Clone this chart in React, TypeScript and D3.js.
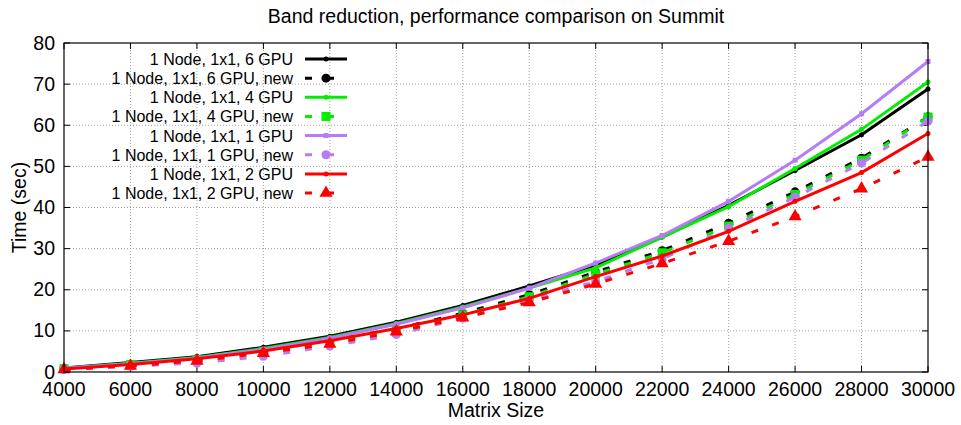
import React from 'react';
import * as d3 from 'd3';

const W = 961;
const H = 425;
const M = { left: 64, right: 33, top: 43, bottom: 53 };

const sizes = [4000, 6000, 8000, 10000, 12000, 14000, 16000, 18000, 20000, 22000, 24000, 26000, 28000, 30000];
const xTicks = [4000, 6000, 8000, 10000, 12000, 14000, 16000, 18000, 20000, 22000, 24000, 26000, 28000, 30000];
const yTicks = [0, 10, 20, 30, 40, 50, 60, 70, 80];

const gpu6 = [1.0, 2.3, 3.7, 6.0, 8.7, 12.1, 16.2, 20.9, 26.0, 32.8, 40.5, 49.0, 57.7, 68.8];
const gpu6New = [0.9, 1.9, 3.2, 5.2, 7.6, 10.5, 14.3, 18.8, 24.3, 29.5, 36.2, 43.8, 52.0, 62.0];
const gpu4 = [0.9, 2.1, 3.5, 5.7, 8.4, 11.8, 15.8, 20.4, 25.3, 32.8, 40.2, 49.5, 59.0, 70.5];
const gpu4New = [0.8, 1.8, 3.0, 5.0, 7.3, 10.1, 13.9, 18.3, 23.8, 29.0, 35.5, 43.2, 51.5, 62.0];
const gpu1 = [0.9, 2.0, 3.4, 5.5, 8.2, 11.6, 15.6, 20.4, 26.5, 33.2, 41.5, 51.5, 62.8, 75.5];
const gpu1New = [0.6, 1.4, 2.2, 3.8, 6.3, 9.1, 13.1, 17.5, 22.0, 27.5, 35.0, 42.5, 50.8, 61.0];
const gpu2 = [0.7, 1.8, 3.2, 5.1, 7.6, 10.6, 13.9, 17.9, 23.2, 28.2, 34.2, 41.5, 48.5, 58.0];
const gpu2New = [0.6, 1.5, 2.7, 4.6, 6.8, 9.8, 13.2, 16.9, 21.4, 26.4, 31.8, 37.8, 44.6, 52.3];

type Marker = 'dot' | 'circle' | 'square' | 'triangle' | 'smallsquare';

const series: { name: string; values: number[]; color: string; dashed: boolean; marker: Marker }[] = [
  { name: '1 Node, 1x1, 6 GPU', values: gpu6, color: '#000000', dashed: false, marker: 'dot' },
  { name: '1 Node, 1x1, 6 GPU, new', values: gpu6New, color: '#000000', dashed: true, marker: 'circle' },
  { name: '1 Node, 1x1, 4 GPU', values: gpu4, color: '#00ee00', dashed: false, marker: 'dot' },
  { name: '1 Node, 1x1, 4 GPU, new', values: gpu4New, color: '#00ee00', dashed: true, marker: 'square' },
  { name: '1 Node, 1x1, 1 GPU', values: gpu1, color: '#b57cf5', dashed: false, marker: 'smallsquare' },
  { name: '1 Node, 1x1, 1 GPU, new', values: gpu1New, color: '#b57cf5', dashed: true, marker: 'circle' },
  { name: '1 Node, 1x1, 2 GPU', values: gpu2, color: '#ff0000', dashed: false, marker: 'dot' },
  { name: '1 Node, 1x1, 2 GPU, new', values: gpu2New, color: '#ff0000', dashed: true, marker: 'triangle' },
];

const font = '"Liberation Sans", Arial, sans-serif';

function MarkerShape({ type, x, y, color }: { type: Marker; x: number; y: number; color: string }) {
  if (type === 'dot') return <circle cx={x} cy={y} r={2.5} fill={color} />;
  if (type === 'smallsquare') return <rect x={x - 2.5} y={y - 2.5} width={5} height={5} fill={color} />;
  if (type === 'circle') return <circle cx={x} cy={y} r={4.5} fill={color} />;
  if (type === 'square') return <rect x={x - 4.5} y={y - 4.5} width={9} height={9} fill={color} />;
  const s = d3.symbol().type(d3.symbolTriangle).size(75)();
  return <path d={s || ''} transform={`translate(${x},${y})`} fill={color} />;
}

export default function App() {
  const x = d3.scaleLinear().domain([4000, 30000]).range([M.left, W - M.right]);
  const y = d3.scaleLinear().domain([0, 80]).range([H - M.bottom, M.top]);
  const line = d3.line<number>().x((_, i) => x(sizes[i])).y((d) => y(d));
  const [x0, x1] = x.range();
  const [y0, y1] = y.range();

  return (
    <svg width={W} height={H} style={{ position: 'absolute', left: 0, top: 0 }} fontFamily={font}>
      <rect width={W} height={H} fill="#fff" />
      <text x={(x0 + x1) / 2} y={23} textAnchor="middle" fontSize={19.5}>
        Band reduction, performance comparison on Summit
      </text>
      {/* grid */}
      <g stroke="#a0a0a0" strokeWidth={1} strokeDasharray="1,2">
        {xTicks.slice(1, -1).map((t) => (
          <line key={`gx${t}`} x1={x(t)} x2={x(t)} y1={y0} y2={y1} />
        ))}
        {yTicks.slice(1, -1).map((t) => (
          <line key={`gy${t}`} x1={x0} x2={x1} y1={y(t)} y2={y(t)} />
        ))}
      </g>
      {/* ticks */}
      <g stroke="#000" strokeWidth={1}>
        {xTicks.map((t) => (
          <g key={`tx${t}`}>
            <line x1={x(t)} x2={x(t)} y1={y0} y2={y0 - 6} />
            <line x1={x(t)} x2={x(t)} y1={y1} y2={y1 + 6} />
          </g>
        ))}
        {yTicks.map((t) => (
          <g key={`ty${t}`}>
            <line x1={x0} x2={x0 + 6} y1={y(t)} y2={y(t)} />
            <line x1={x1} x2={x1 - 6} y1={y(t)} y2={y(t)} />
          </g>
        ))}
      </g>
      {xTicks.map((t) => (
        <text key={`lx${t}`} x={x(t)} y={y0 + 24} textAnchor="middle" fontSize={19.5}>
          {t}
        </text>
      ))}
      {yTicks.map((t) => (
        <text key={`ly${t}`} x={x0 - 9} y={y(t) + 6.5} textAnchor="end" fontSize={19.5}>
          {t}
        </text>
      ))}
      <text x={(x0 + x1) / 2} y={417} textAnchor="middle" fontSize={19.5}>
        Matrix Size
      </text>
      <text transform={`translate(26,${(y0 + y1) / 2}) rotate(-90)`} textAnchor="middle" fontSize={19.5}>
        Time (sec)
      </text>
      {/* series */}
      <g>
        {series.map((s) => (
          <g key={s.name}>
            <path
              d={line(s.values) || ''}
              fill="none"
              stroke={s.color}
              strokeWidth={3}
              strokeDasharray={s.dashed ? '7,15' : undefined}
            />
            {s.values.map((v, i) => (
              <MarkerShape key={i} type={s.marker} x={x(sizes[i])} y={y(v)} color={s.color} />
            ))}
          </g>
        ))}
      </g>
      {/* legend */}
      <g>
        {series.map((s, i) => {
          const ly = 59 + i * 19.15;
          return (
            <g key={`leg${i}`}>
              <text x={293} y={ly + 6} textAnchor="end" fontSize={16}>
                {s.name}
              </text>
              <line
                x1={305}
                x2={347}
                y1={ly}
                y2={ly}
                stroke={s.color}
                strokeWidth={3}
                strokeDasharray={s.dashed ? '7,15' : undefined}
              />
              <MarkerShape type={s.marker} x={326} y={ly} color={s.color} />
            </g>
          );
        })}
      </g>
      <rect x={x0} y={y1} width={x1 - x0} height={y0 - y1} fill="none" stroke="#000" strokeWidth={1.2} />
    </svg>
  );
}
